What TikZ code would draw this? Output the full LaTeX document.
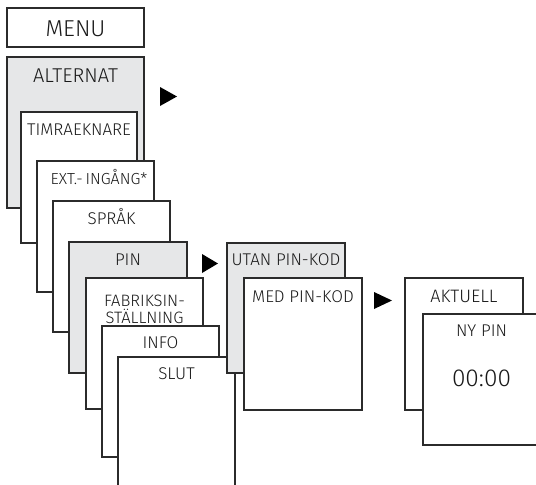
\documentclass[tikz,border=0pt]{standalone}
\usepackage{fontspec}
\setmainfont{Fira Sans Light}
\definecolor{boxline}{HTML}{2B2B2B}
\definecolor{boxgray}{HTML}{E6E7E8}
\begin{document}
\begin{tikzpicture}[x=1pt,y=-1pt,
  box/.style={draw=boxline, line width=1.2pt, fill=white, inner sep=0pt, outer sep=0pt, anchor=north west},
  gbox/.style={box, fill=boxgray},
  lbl/.style={anchor=base, inner sep=0pt, text=black!90, font=\fontsize{17}{17}\selectfont},
  tri/.style={fill=black}
]
\useasboundingbox (0,0) rectangle (536,485);
\clip (0,0) rectangle (536,485);
% MENU
\node[box, minimum width=137pt, minimum height=39pt] (menu) at (7,8) {};
\node[lbl, font=\fontsize{23}{23}\selectfont] (menuT) at (75.5,36) {MENU};
% left stack
\node[gbox, minimum width=137pt, minimum height=151pt] (alt) at (7,57) {};
\node[lbl, font=\fontsize{20}{20}\selectfont] (altT) at (75.5,82) {ALTERNAT};
\node[box, minimum width=116pt, minimum height=131pt] (timr) at (21,112) {};
\node[lbl, font=\fontsize{17}{17}\selectfont] (timrT) at (79,135) {TIMRAEKNARE};
\node[box, minimum width=117pt, minimum height=131pt] (ext) at (37,161) {};
\node[lbl, font=\fontsize{16}{16}\selectfont] (extT) at (99,184) {EXT.-\,INGÅNG*};
\node[box, minimum width=117pt, minimum height=131pt] (spr) at (53,201) {};
\node[lbl] (sprT) at (111.5,224) {SPRÅK};
\node[gbox, minimum width=118pt, minimum height=131pt] (pin) at (69,242) {};
\node[lbl] (pinT) at (128,265) {PIN};
\node[box, minimum width=117pt, minimum height=131pt] (fab) at (86,278) {};
\node[lbl, font=\fontsize{16.5}{16.5}\selectfont] (fabT1) at (144.5,306.5) {FABRIKSIN-};
\node[lbl, font=\fontsize{16.5}{16.5}\selectfont] (fabT2) at (144.5,323.5) {STÄLLNING};
\node[box, minimum width=117pt, minimum height=131pt] (info) at (102,326) {};
\node[lbl] (infoT) at (160.5,348) {INFO};
\node[box, minimum width=117pt, minimum height=140pt] (slut) at (118,357) {};
\node[lbl] (slutT) at (176.5,379) {SLUT};
% middle stack
\node[gbox, minimum width=118pt, minimum height=130pt] (utan) at (227,243) {};
\node[lbl] (utanT) at (286,265) {UTAN PIN-KOD};
\node[box, minimum width=118pt, minimum height=132pt] (med) at (244,278) {};
\node[lbl] (medT) at (303,302) {MED PIN-KOD};
% right stack
\node[box, minimum width=118pt, minimum height=132pt] (akt) at (405,278) {};
\node[lbl, font=\fontsize{18}{18}\selectfont] (aktT) at (464,302) {AKTUELL};
\node[box, minimum width=125pt, minimum height=131pt] (ny) at (423,314) {};
\node[lbl] (nyT) at (481.5,336) {NY PIN};
\node[lbl, font=\fontsize{24.5}{24.5}\selectfont] (nyV) at (481.5,386) {00:00};
% triangles
\fill[tri] (160,87) -- (177,96.5) -- (160,106) -- cycle;
\fill[tri] (202,254) -- (218,263.5) -- (202,273) -- cycle;
\fill[tri] (374,292) -- (392,300.5) -- (374,309) -- cycle;
\end{tikzpicture}
\end{document}
